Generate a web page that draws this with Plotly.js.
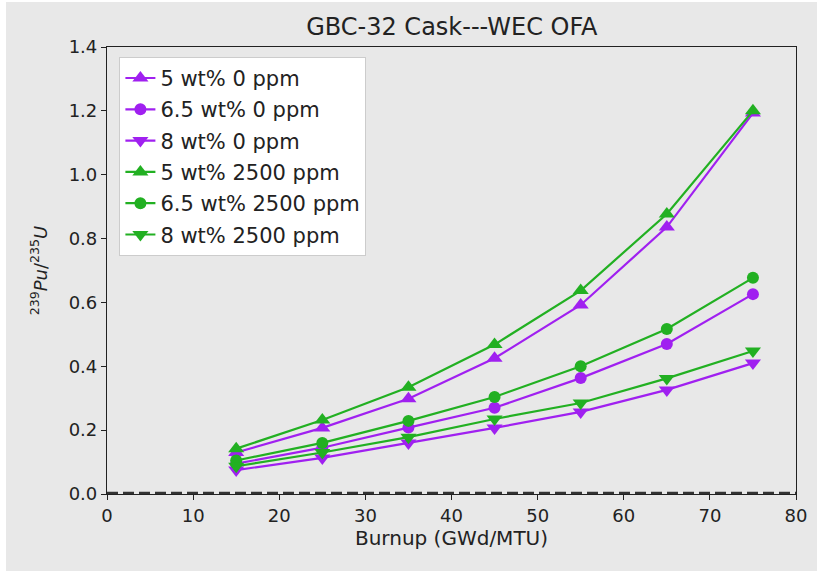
<!DOCTYPE html>
<html><head><meta charset="utf-8">
<script src="https://cdn.plot.ly/plotly-3.0.1.min.js"></script>
<style>html,body{margin:0;padding:0;background:#fff}</style>
</head><body>
<div id="chart" style="width:817px;height:571px"></div>
<script>
const burnup = [15, 25, 35, 45, 55, 65, 75];
const names = ["5 wt% 0 ppm", "6.5 wt% 0 ppm", "8 wt% 0 ppm", "5 wt% 2500 ppm", "6.5 wt% 2500 ppm", "8 wt% 2500 ppm"];
const pu_5_0 = [0.13, 0.207, 0.298, 0.425, 0.592, 0.836, 1.193];
const pu_65_0 = [0.095, 0.145, 0.208, 0.27, 0.363, 0.47, 0.626];
const pu_8_0 = [0.075, 0.113, 0.16, 0.207, 0.257, 0.326, 0.41];
const pu_5_2500 = [0.142, 0.232, 0.334, 0.468, 0.637, 0.877, 1.2];
const pu_65_2500 = [0.105, 0.16, 0.229, 0.304, 0.40, 0.517, 0.677];
const pu_8_2500 = [0.087, 0.13, 0.178, 0.235, 0.285, 0.362, 0.448];
const refX = [0, 80];
const refY = [0, 0];
const xTicks = [0, 10, 20, 30, 40, 50, 60, 70, 80];
const yTicks = [0, 0.2, 0.4, 0.6, 0.8, 1.0, 1.2, 1.4];

const purple = '#a020f0', green = '#22b022';
const series = [pu_5_0, pu_65_0, pu_8_0, pu_5_2500, pu_65_2500, pu_8_2500];
const colors = [purple, purple, purple, green, green, green];
const symbols = ['triangle-up', 'circle', 'triangle-down', 'triangle-up', 'circle', 'triangle-down'];
const sizes = [14, 12, 14, 14, 12, 14];

const traces = series.map((ys, i) => ({
  x: burnup, y: ys, name: names[i], type: 'scatter', mode: 'lines+markers',
  legendgroup: 'g' + i,
  line: {color: colors[i], width: 2.2},
  marker: {color: colors[i], symbol: symbols[i], size: sizes[i]}
}));
traces.push({x: refX, y: refY, type: 'scatter', mode: 'lines', showlegend: false,
  line: {color: '#333', width: 4.5, dash: '11px,5px'}, cliponaxis: false, hoverinfo: 'skip'});

const font = {family: 'DejaVu Sans', color: '#222'};
const layout = {
  width: 817, height: 571,
  paper_bgcolor: '#fff', plot_bgcolor: '#fff',
  margin: {l: 107, r: 21, t: 47, b: 77},
  font: Object.assign({size: 18}, font),
  shapes: [{type: 'rect', xref: 'paper', yref: 'paper', x0: -0.1466, x1: 1.0305, y0: -0.1723, y1: 1.1007,
    fillcolor: '#e8e8e8', line: {width: 0}, layer: 'below'}],
  title: {text: 'GBC-32 Cask---WEC OFA', x: 0.553, xanchor: 'center', y: 0.953, yanchor: 'middle',
    font: Object.assign({size: 24}, font)},
  xaxis: {range: [0, 80], tickvals: xTicks, ticks: 'outside', ticklen: 5, tickcolor: '#222',
    showgrid: false, zeroline: false, showline: true, linecolor: '#222', linewidth: 1.2, mirror: true,
    tickfont: Object.assign({size: 18}, font),
    title: {text: 'Burnup (GWd/MTU)', font: Object.assign({size: 20}, font), standoff: 6}},
  yaxis: {range: [0, 1.4], tickvals: yTicks, tickformat: '.1f', ticks: 'outside', ticklen: 5, tickcolor: '#222',
    showgrid: false, zeroline: false, showline: true, linecolor: '#222', linewidth: 1.2, mirror: true,
    tickfont: Object.assign({size: 18}, font),
    title: {text: '<sup>239</sup><i>Pu</i>/<sup>235</sup><i>U</i>', font: Object.assign({size: 18}, font), standoff: 16}},
  legend: {x: 0.018, y: 0.978, xanchor: 'left', yanchor: 'top', bgcolor: '#fff',
    bordercolor: '#ccc', borderwidth: 1, font: Object.assign({size: 21}, font), tracegroupgap: 1,
    itemwidth: 30}
};
Plotly.newPlot('chart', traces, layout, {displayModeBar: false});
</script>
</body></html>
